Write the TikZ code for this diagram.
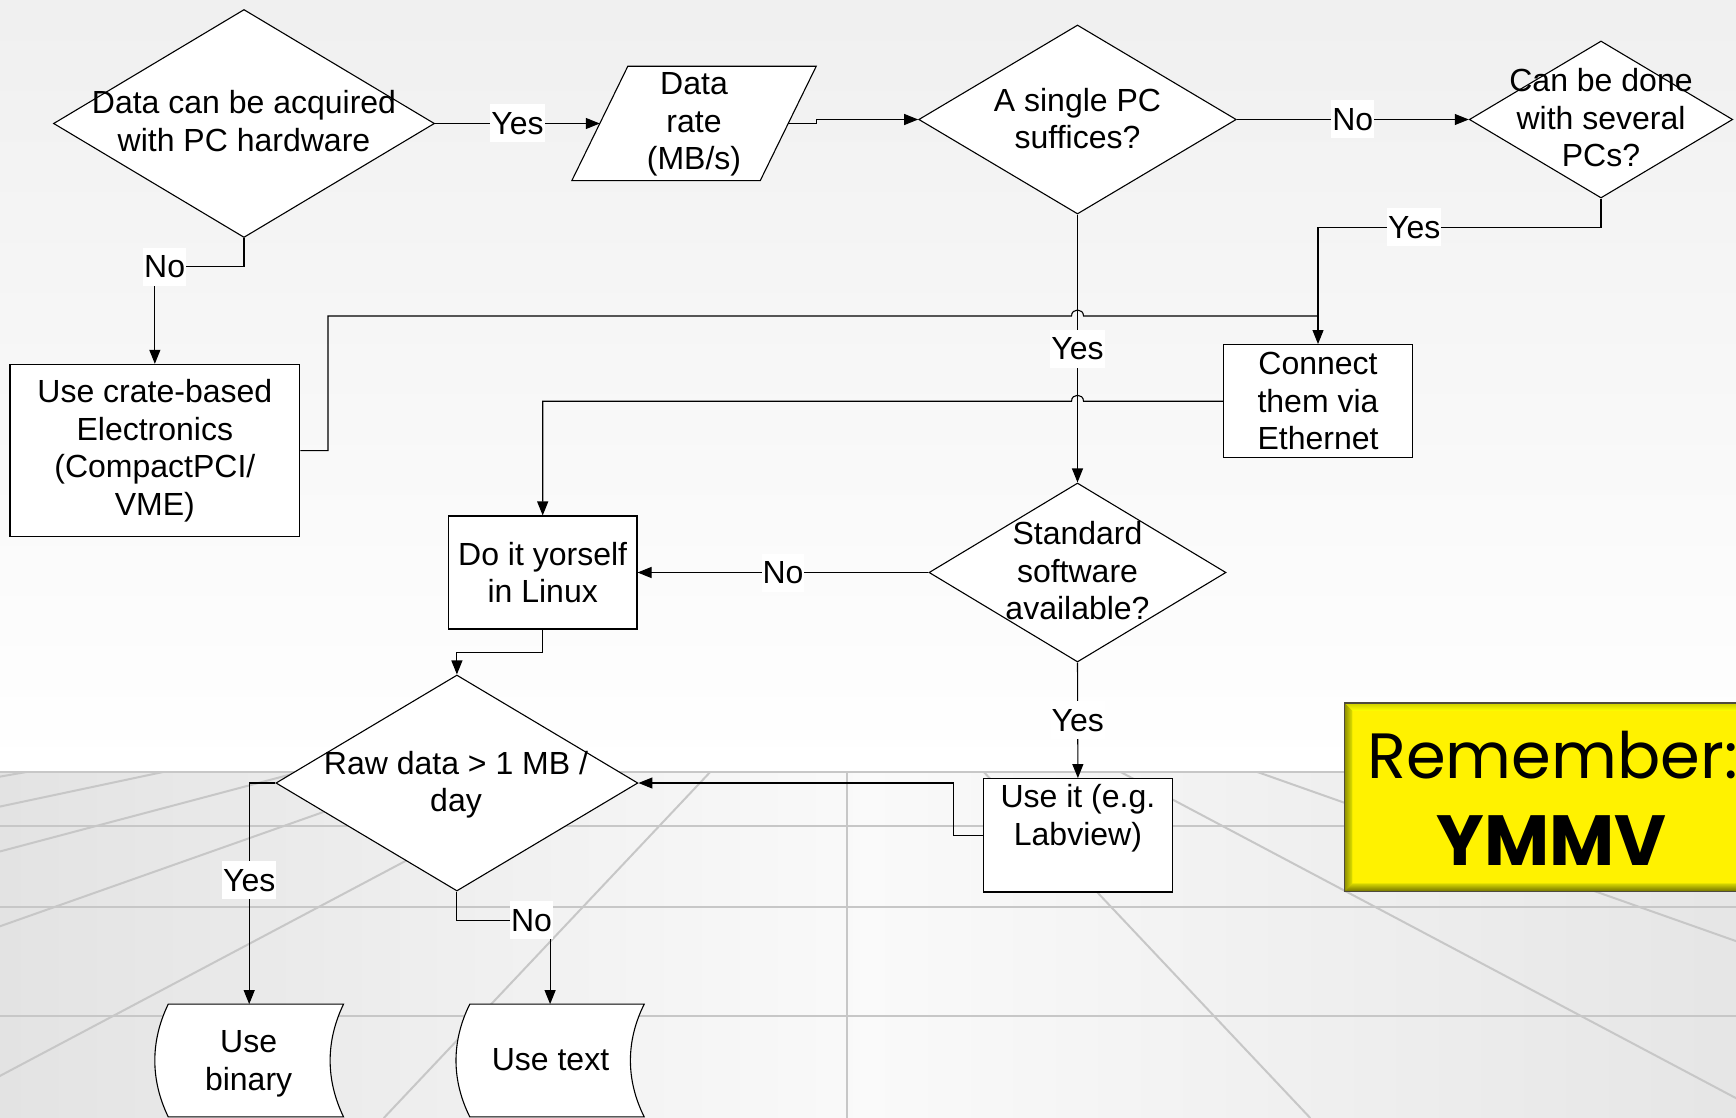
\documentclass[tikz,border=0pt]{standalone}
\usepackage{fontspec}
\setmainfont{Liberation Sans}
\newfontfamily\remfont{Poppins}
\usetikzlibrary{shapes.geometric,arrows.meta,calc}
\begin{document}
\begin{tikzpicture}[x=1pt,y=-1pt,
  every node/.style={font=\fontsize{32}{37.5}\selectfont},
  rbox/.style={draw=black, line width=1.1pt, fill=white, inner sep=0pt, align=center},
  dia/.style={diamond, draw=black, line width=1.1pt, fill=white, inner sep=0pt},
  shapeline/.style={draw=black, line width=1.1pt, fill=white},
  txt/.style={align=center, inner sep=0pt},
  wire/.style={line width=1.1pt},
  conn/.style={line width=1.1pt, -{Triangle[length=14pt,width=11pt]}},
  lbl/.style={fill=white, inner sep=1pt, minimum height=38pt},
  floorline/.style={draw=black!22, line width=2pt}]
\useasboundingbox (0,0) rectangle (1736,1118);
\clip (0,0) rectangle (1736,1118);
% background
\shade[top color=black!6, bottom color=white] (0,0) rectangle (1736,772);
\shade[left color=black!11, right color=black!10, middle color=black!2] (0,772) rectangle (1736,1118);
\begin{scope}
  \clip (0,771) rectangle (1736,1118);
  \foreach \k in {-6,...,6} {
    \draw[floorline] ({847+\k*136.8},772) -- ({847+\k*136.8*3.3862},1118);
  }
  \foreach \yy in {772,826,907,1016} {
    \draw[floorline] (0,\yy) -- (1736,\yy);
  }
\end{scope}

% shapes
\node[dia, minimum width=381pt, minimum height=228pt] (d1) at (244,123.5) {};
\node[txt] (d1t) at (244,121) {Data can be acquired\\with PC hardware};

\node[inner sep=0pt, minimum width=188pt, minimum height=114pt] (dr) at (694,123.5) {};
\draw[shapeline] ($(dr.north west)+(28,0)$) -- ($(dr.north east)+(28,0)$) -- ($(dr.south east)+(-28,0)$) -- ($(dr.south west)+(-28,0)$) -- cycle;
\node[txt] (drt) at (694,124.5) {Data\\rate\\(MB/s)};

\node[dia, minimum width=317.6pt, minimum height=189pt] (d2) at (1077.5,119.5) {};
\node[txt] (d2t) at (1077.5,118.5) {A single PC\\suffices?};

\node[dia, minimum width=263.4pt, minimum height=157pt] (d3) at (1601,119.5) {};
\node[txt] (d3t) at (1601,118) {Can be done\\with several\\PCs?};

\node[rbox, minimum width=289.7pt, minimum height=172.5pt] (crate) at (154.85,450.6) {Use crate-based\\Electronics\\(CompactPCI/\\VME)};
\node[rbox, minimum width=189pt, minimum height=113.3pt] (conn) at (1318,401.25) {Connect\\them via\\Ethernet};
\node[rbox, minimum width=188.6pt, minimum height=113pt] (diy) at (542.7,572.5) {Do it yorself\\in Linux};

\node[dia, minimum width=297pt, minimum height=179pt] (d4) at (1077.5,572.5) {};
\node[txt] (d4t) at (1077.5,571) {Standard\\software\\available?};

\node[rbox, minimum width=189.5pt, minimum height=113.4pt] (use) at (1077.9,835.3) {};
\node[txt] (uset) at (1077.9,818) {Use it (e.g.\\Labview)};

\node[dia, minimum width=362pt, minimum height=216pt] (d5) at (456.9,783) {};
\node[txt] (d5t) at (456,784.5) {Raw data > 1 MB /\\day};

\node[inner sep=0pt, minimum width=188.3pt, minimum height=112.4pt] (ub) at (249.2,1060.5) {};
\draw[shapeline] ($(ub.north west)+(13.4,0)$) coordinate (ubtl) -- (ub.north east) .. controls +(-17.9,37) and +(-17.9,-37) .. (ub.south east) -- ($(ub.south west)+(13.4,0)$) .. controls +(-17.9,-37) and +(-17.9,37) .. (ubtl) -- cycle;
\node[txt] (ubt) at (248.6,1064) {Use\\binary};

\node[inner sep=0pt, minimum width=187.8pt, minimum height=112.4pt] (ut) at (550.1,1060.5) {};
\draw[shapeline] ($(ut.north west)+(13.8,0)$) coordinate (uttl) -- (ut.north east) .. controls +(-18.4,37) and +(-18.4,-37) .. (ut.south east) -- ($(ut.south west)+(13.8,0)$) .. controls +(-18.4,-37) and +(-18.4,37) .. (uttl) -- cycle;
\node[txt] (utt) at (550.5,1060) {Use text};

% connectors
\draw[conn] (d1.east) -- node[lbl]{Yes} (dr.west);
\draw[conn] (dr.east) -- ++(28,0) |- (d2.west);
\draw[conn] (d2.east) -- node[lbl]{No} (d3.west);
\draw[conn] (d3.south) -- ++(0,28.8) -| node[lbl,pos=0.33]{Yes} (conn.north);
\draw[conn] (d1.south) -- ++(0,28.6) -| node[lbl,pos=0.445]{No} (crate.north);
\coordinate (lvlA) at (0,316);
\draw[wire] (crate.east) -- ++(27.7,0) coordinate (ca) |- ($(d2.south |- lvlA)+(-6,0)$) .. controls +(0,-8) and +(0,-8) .. ($(d2.south |- lvlA)+(6,0)$) -- (conn.north |- lvlA);
\draw[conn] (d2.south) -- node[lbl]{Yes} (d4.north);
\draw[conn] (conn.west) -- ($(d2.south |- conn.west)+(6,0)$) .. controls +(0,-8) and +(0,-8) .. ($(d2.south |- conn.west)+(-6,0)$) -| (diy.north);
\draw[conn] (d4.west) -- node[lbl]{No} (diy.east);
\draw[conn] (d4.south) -- node[lbl]{Yes} (use.north);
\draw[conn] (use.west) -- ++(-29,0) |- (d5.east);
\draw[conn] (diy.south) -- ++(0,22.8) -| (d5.north);
\draw[conn] (d5.west) -| node[lbl,pos=0.72]{Yes} (ub.north);
\draw[conn] (d5.south) -- ++(0,28.6) -| node[lbl,pos=0.4]{No} (ut.north);

% remember box
\node[draw=black!80!yellow, line width=1.5pt, fill=yellow, inner sep=0pt, minimum width=405pt, minimum height=187pt] (rem) at (1547.5,797) {};
\shade[top color=yellow!80!black, bottom color=yellow] (rem.north west) -- (rem.north east) -- ($(rem.north east)+(-8,8)$) -- ($(rem.north west)+(8,8)$) -- cycle;
\shade[left color=yellow!55!black, right color=yellow!88!black] (rem.north west) -- ($(rem.north west)+(8,8)$) -- ($(rem.south west)+(8,-8)$) -- (rem.south west) -- cycle;
\shade[top color=yellow!85!black, bottom color=yellow!45!black] (rem.south west) -- ($(rem.south west)+(8,-8)$) -- ($(rem.south east)+(-8,-8)$) -- (rem.south east) -- cycle;
\draw[draw=black!80!yellow, line width=1.5pt] (rem.north west) rectangle (rem.south east);
\node[font=\remfont\fontsize{64}{70}\selectfont, anchor=base, inner sep=0pt] (remt) at (1552.5,778) {Remember:};
\node[font=\remfont\bfseries\fontsize{71}{78}\selectfont, anchor=base, inner sep=0pt] (ymmv) at (1551.5,865) {YMMV};
\end{tikzpicture}
\end{document}
